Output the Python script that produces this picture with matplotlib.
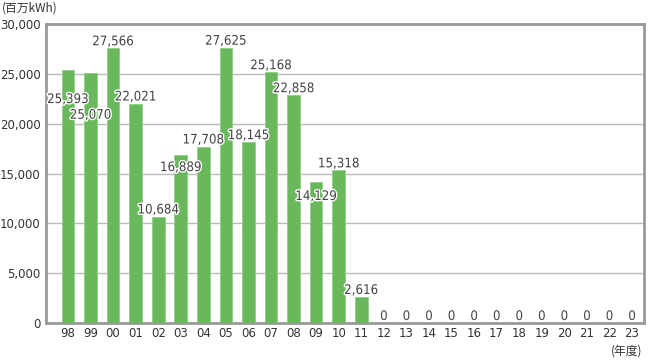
import matplotlib
matplotlib.use("Agg")
import matplotlib.pyplot as plt
import matplotlib.patheffects as pe
from matplotlib import font_manager as fm
import numpy as np

years = ["98", "99", "00", "01", "02", "03", "04", "05", "06", "07", "08", "09",
         "10", "11", "12", "13", "14", "15", "16", "17", "18", "19", "20", "21", "22", "23"]
values = [25393, 25070, 27566, 22021, 10684, 16889, 17708, 27625, 18145, 25168,
          22858, 14129, 15318, 2616, 0, 0, 0, 0, 0, 0, 0, 0, 0, 0, 0, 0]
yticks = [0, 5000, 10000, 15000, 20000, 25000, 30000]

# label vertical offsets in points (relative to bar top)
label_dy = [-26, -35, 0, 0, 0, -14, 0, 0, 0, 0, 0, -15, 0, 0, 0, 0, 0, 0, 0, 0, 0, 0, 0, 0, 0, 0]

names = {f.name for f in fm.fontManager.ttflist}
cond = [f for f in fm.fontManager.ttflist if "Condensed" in f.fname or "Narrow" in f.fname]
print(sorted(names))
print([c.fname for c in cond])

fig = plt.figure(figsize=(6.55, 3.6), dpi=100)
ax = fig.add_axes([46/655, 37/360, 598/655, 299/360])

x = np.arange(len(years))
ax.bar(x, values, width=0.56, color="#6ab85c", edgecolor="#8fcf84", linewidth=0.6, zorder=3)

ax.set_ylim(0, 30000)
ax.set_xlim(-0.975, len(years) - 0.47)
ax.set_yticks(yticks)
ax.set_yticklabels([f"{v:,}" for v in yticks])
ax.set_xticks(x)
ax.set_xticklabels(years)
ax.tick_params(axis="both", length=0, labelsize=8.5, colors="#333333")
ax.tick_params(axis="x", pad=3)
ax.tick_params(axis="y", pad=4)
ax.grid(axis="y", color="#bbbbbb", linewidth=1.0, zorder=0)
for s in ax.spines.values():
    s.set_color("#999999")
    s.set_linewidth(2.0)

for xi, v, dy in zip(x, values, label_dy):
    ax.annotate(f"{v:,}", (xi, v), xytext=(0, dy), textcoords="offset points",
                ha="center", va="bottom", fontsize=9.5, color="#444444",
                family=["DejaVu Sans"], fontstretch="condensed", zorder=5,
                path_effects=[pe.withStroke(linewidth=2, foreground="white")])

fig.text(2/655, 1 - 8/360, "(百万kWh)", ha="left", va="center", fontsize=8.5,
         color="#333333", family=["Noto Sans CJK JP", "DejaVu Sans"])
fig.text(642/655, 1 - 351/360, "(年度)", ha="right", va="center", fontsize=8.5,
         color="#333333", family=["Noto Sans CJK JP", "DejaVu Sans"])

fig.savefig("out.png", dpi=100)
